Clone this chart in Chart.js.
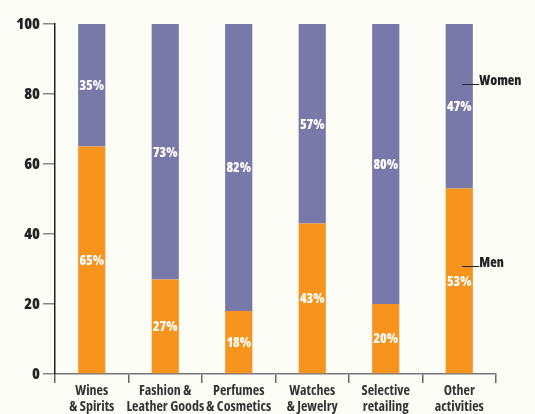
<!DOCTYPE html>
<html>
<head>
<meta charset="utf-8">
<script src="https://cdn.jsdelivr.net/npm/chart.js@4"></script>
<style>
  html, body { margin: 0; padding: 0; background: #fdfdf8; }
  #wrap { width: 535px; height: 414px; }
</style>
</head>
<body>
<div id="wrap"><canvas id="shareChart"></canvas></div>
<script>
// Data
const categories = [
    ['Wines', '& Spirits'],
    ['Fashion &', 'Leather Goods'],
    ['Perfumes', '& Cosmetics'],
    ['Watches', '& Jewelry'],
    ['Selective', 'retailing'],
    ['Other', 'activities']
];
const menValues = [65, 27, 18, 43, 20, 53];
const womenValues = [35, 73, 82, 57, 80, 47];
const yTicks = [0, 20, 40, 60, 80, 100];
const seriesNames = ['Men', 'Women'];
// where the side labels sit, in axis units
const sideLabelLevels = [31, 83];

const FONT = "'Open Sans', sans-serif";
const WEIGHT = '800 condensed';
const ORANGE = '#f7941e';
const PURPLE = '#7879a8';

// white percentage labels inside each segment + Men/Women labels at the right
const labelPlugin = {
    id: 'labelPlugin',
    afterDatasetsDraw(chart) {
        const ctx = chart.ctx;
        ctx.save();
        ctx.font = WEIGHT + ' 13.5px ' + FONT;
        ctx.fillStyle = '#ffffff';
        ctx.textAlign = 'center';
        ctx.textBaseline = 'middle';
        chart.data.datasets.forEach((ds, i) => {
            chart.getDatasetMeta(i).data.forEach((bar, j) => {
                const mid = (bar.y + bar.base) / 2;
                ctx.fillText(ds.data[j] + '%', bar.x, mid + 1);
            });
        });

        // series labels with short leader lines
        const y = chart.scales.y;
        const last = chart.getDatasetMeta(0).data[categories.length - 1];
        const x0 = last.x + 3;
        ctx.strokeStyle = '#222';
        ctx.lineWidth = 1;
        ctx.fillStyle = '#222';
        ctx.textAlign = 'left';
        ctx.textBaseline = 'bottom';
        ctx.font = WEIGHT + ' 13.5px ' + FONT;
        seriesNames.forEach((name, i) => {
            const py = Math.round(y.getPixelForValue(sideLabelLevels[i])) + 0.5;
            ctx.beginPath();
            ctx.moveTo(x0, py);
            ctx.lineTo(x0 + 17, py);
            ctx.stroke();
            ctx.fillText(name, x0 + 17, py + 3);
        });
        ctx.restore();
    }
};

const config = {
    type: 'bar',
    data: {
        labels: categories,
        datasets: [{
            label: seriesNames[0],
            data: menValues,
            backgroundColor: ORANGE,
            barPercentage: 0.37,
            categoryPercentage: 1
        }, {
            label: seriesNames[1],
            data: womenValues,
            backgroundColor: PURPLE,
            barPercentage: 0.37,
            categoryPercentage: 1
        }]
    },
    options: {
        responsive: true,
        maintainAspectRatio: false,
        animation: false,
        layout: { padding: { top: 24, right: 39, left: 0, bottom: 0 } },
        plugins: {
            legend: { display: false },
            tooltip: { enabled: false }
        },
        scales: {
            x: {
                stacked: true,
                afterFit(axis) { axis.height = 40; },
                border: { display: true, color: '#777', width: 1.5 },
                grid: {
                    drawOnChartArea: false,
                    drawTicks: true,
                    tickLength: 9,
                    color: '#666',
                    lineWidth: 1.5
                },
                ticks: {
                    color: '#333',
                    font: { family: FONT, size: 14, weight: 'bold condensed', lineHeight: 1.15 },
                    padding: 0,
                    maxRotation: 0,
                    autoSkip: false
                }
            },
            y: {
                stacked: true,
                min: 0,
                max: 100,
                afterFit(axis) { axis.width = 55; },
                afterBuildTicks(axis) {
                    axis.ticks = yTicks.map(v => ({ value: v }));
                },
                border: { display: true, color: '#222', width: 1.5 },
                grid: {
                    drawOnChartArea: false,
                    drawTicks: true,
                    tickLength: 12,
                    color: '#888',
                    lineWidth: 1.5
                },
                ticks: {
                    color: '#222',
                    font: { family: FONT, size: 16, weight: WEIGHT },
                    padding: 3
                }
            }
        }
    },
    plugins: [labelPlugin]
};

const shareChart = new Chart(document.getElementById('shareChart'), config);
</script>
</body>
</html>
